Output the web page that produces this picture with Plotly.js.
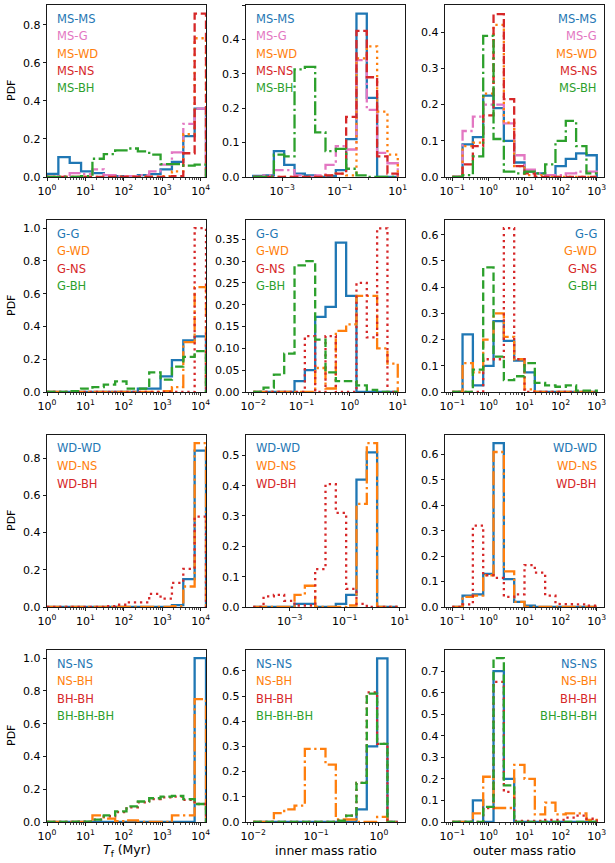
<!DOCTYPE html>
<html>
<head>
<meta charset="utf-8">
<script src="https://cdn.plot.ly/plotly-3.0.1.min.js"></script>
<style>
html, body { margin: 0; padding: 0; background: #fff; }
#chart { width: 615px; height: 863px; }
</style>
</head>
<body>
<div id="chart"></div>
<script>
// pair labels per row
var msPairs = ['MS-MS', 'MS-G', 'MS-WD', 'MS-NS', 'MS-BH'];
var gPairs = ['G-G', 'G-WD', 'G-NS', 'G-BH'];
var wdPairs = ['WD-WD', 'WD-NS', 'WD-BH'];
var remPairs = ['NS-NS', 'NS-BH', 'BH-BH', 'BH-BH-BH'];

// histogram bins: 14 log-uniform bins between these log10 limits
var nBins = 14;
var tfLogLim = [0, 4.14];
var innerLogLim = [[-4, 1], [-2, 1], [-4.33, 0.93], [-2, 0.301]];
var outerLogLim = [-1, 3];

// PDF values, one list per pair (same order as the labels)
var msTf = [
  [0.016, 0.105, 0.074, 0.03, 0.02, 0.01, 0.005, 0.005, 0.01, 0.015, 0.04, 0.08, 0.215, 0.36],
  [0, 0.005, 0.02, 0.015, 0.04, 0.01, 0.005, 0.005, 0.01, 0.03, 0.065, 0.13, 0.28, 0.36],
  [0, 0, 0, 0, 0, 0, 0, 0, 0, 0.002, 0.005, 0.03, 0.225, 0.73],
  [0, 0, 0, 0, 0, 0, 0, 0, 0, 0, 0, 0.005, 0.125, 0.86],
  [0, 0, 0, 0.005, 0.096, 0.12, 0.14, 0.15, 0.135, 0.118, 0.068, 0.068, 0.06, 0.065]
];
var msInner = [
  [0.003, 0.005, 0.075, 0.035, 0.01, 0.005, 0, 0.003, 0.02, 0.11, 0.475, 0.23, 0, 0],
  [0, 0.005, 0.02, 0.02, 0.005, 0, 0.005, 0.035, 0.09, 0.08, 0.34, 0.195, 0.07, 0.04],
  [0, 0, 0, 0, 0, 0, 0, 0.005, 0.01, 0.005, 0.345, 0.38, 0.19, 0.065],
  [0, 0, 0, 0, 0, 0, 0, 0.005, 0.01, 0.175, 0.425, 0.29, 0.06, 0.01],
  [0, 0, 0.065, 0.06, 0.313, 0.32, 0.13, 0.075, 0.082, 0.024, 0.005, 0, 0, 0]
];
var msOuter = [
  [0, 0.09, 0.11, 0.225, 0.19, 0.10, 0.04, 0.015, 0.01, 0.005, 0.03, 0.05, 0.065, 0.06],
  [0, 0.127, 0.167, 0.2, 0.2, 0.148, 0.06, 0.02, 0.01, 0.005, 0.005, 0.01, 0.015, 0.015],
  [0, 0.085, 0.095, 0.23, 0.42, 0.15, 0.03, 0.005, 0.005, 0, 0, 0, 0, 0],
  [0, 0.035, 0.085, 0.17, 0.45, 0.215, 0.03, 0.01, 0, 0, 0, 0, 0, 0],
  [0, 0.005, 0.057, 0.39, 0.105, 0.015, 0.01, 0.015, 0.01, 0.035, 0.1, 0.155, 0.085, 0.01]
];

var gTf = [
  [0, 0, 0, 0, 0, 0, 0, 0, 0.02, 0.02, 0.095, 0.195, 0.315, 0.34],
  [0, 0, 0, 0, 0, 0, 0, 0, 0, 0, 0.005, 0.03, 0.305, 0.64],
  [0, 0, 0, 0, 0, 0, 0, 0, 0, 0, 0, 0, 0, 1.0],
  [0, 0, 0.005, 0.02, 0.03, 0.045, 0.065, 0.02, 0.02, 0.12, 0.075, 0.155, 0.215, 0.25]
];
var gInner = [
  [0, 0, 0, 0, 0.025, 0.05, 0.172, 0.195, 0.342, 0.22, 0, 0, 0, 0],
  [0, 0, 0, 0, 0, 0, 0.055, 0.008, 0.14, 0.155, 0.22, 0.22, 0.10, 0.065],
  [0, 0, 0, 0, 0, 0.128, 0, 0.128, 0, 0, 0.25, 0.125, 0.375, 0],
  [0, 0.01, 0.04, 0.088, 0.29, 0.30, 0.12, 0.045, 0.025, 0.025, 0.015, 0.005, 0, 0]
];
var gOuter = [
  [0, 0.22, 0.025, 0.10, 0.27, 0.195, 0.12, 0.075, 0, 0, 0, 0, 0, 0],
  [0, 0.11, 0.075, 0.20, 0.30, 0.21, 0.125, 0.01, 0, 0, 0, 0, 0, 0],
  [0, 0, 0, 0.125, 0.125, 0.625, 0.125, 0, 0, 0, 0, 0, 0, 0],
  [0, 0, 0.085, 0.475, 0.135, 0.045, 0.06, 0.11, 0.035, 0.025, 0.02, 0.025, 0.005, 0.005]
];

var wdTf = [
  [0, 0, 0, 0, 0, 0, 0, 0, 0, 0, 0, 0.01, 0.15, 0.84],
  [0, 0, 0, 0, 0, 0, 0, 0, 0, 0, 0, 0.005, 0.11, 0.88],
  [0, 0, 0, 0, 0, 0.005, 0.012, 0.025, 0.025, 0.07, 0.045, 0.13, 0.205, 0.485]
];
var wdInner = [
  [0, 0, 0, 0, 0.01, 0.01, 0, 0, 0.01, 0.04, 0.42, 0.51, 0, 0],
  [0, 0, 0, 0, 0.04, 0.07, 0, 0, 0, 0.005, 0.34, 0.54, 0, 0],
  [0, 0.035, 0.04, 0.02, 0.005, 0.005, 0.125, 0.405, 0.31, 0.06, 0.01, 0, 0, 0]
];
var wdOuter = [
  [0, 0.045, 0.05, 0.13, 0.645, 0.11, 0.02, 0.005, 0, 0, 0, 0, 0, 0],
  [0, 0.04, 0.045, 0.125, 0.61, 0.14, 0.02, 0, 0, 0, 0, 0, 0, 0],
  [0, 0.01, 0.32, 0.125, 0.115, 0.04, 0.05, 0.165, 0.135, 0.045, 0.012, 0.01, 0.01, 0.005]
];

var remTf = [
  [0, 0, 0, 0, 0, 0, 0, 0, 0, 0, 0, 0, 0, 1.0],
  [0, 0, 0, 0, 0.04, 0.02, 0.005, 0.01, 0, 0, 0, 0.04, 0.04, 0.75],
  [0, 0, 0, 0.002, 0.015, 0.035, 0.06, 0.09, 0.12, 0.14, 0.15, 0.155, 0.135, 0.11],
  [0, 0, 0, 0.002, 0.015, 0.04, 0.065, 0.095, 0.125, 0.145, 0.155, 0.16, 0.14, 0.11]
];
var remInner = [
  [0, 0, 0, 0, 0, 0, 0, 0, 0, 0, 0.05, 0.30, 0.65, 0],
  [0, 0, 0.035, 0.05, 0.065, 0.29, 0.29, 0.228, 0.01, 0.01, 0, 0, 0.02, 0],
  [0, 0, 0, 0, 0, 0, 0, 0, 0.005, 0.025, 0.155, 0.515, 0.31, 0],
  [0, 0, 0, 0, 0, 0, 0, 0, 0.005, 0.025, 0.155, 0.51, 0.31, 0]
];
var remOuter = [
  [0, 0, 0.1, 0, 0.70, 0.20, 0, 0, 0, 0, 0, 0, 0, 0],
  [0, 0, 0.04, 0.21, 0.065, 0.065, 0.265, 0.2, 0.035, 0.09, 0.035, 0.04, 0.04, 0.01],
  [0, 0, 0, 0.065, 0.65, 0.14, 0.005, 0.005, 0.005, 0.01, 0.01, 0.02, 0.03, 0.015],
  [0, 0, 0, 0.07, 0.76, 0.17, 0, 0, 0, 0, 0, 0, 0, 0]
];

// styling
var blue = '#1f77b4', orange = '#ff7f0e', green = '#2ca02c', red = '#d62728', pink = '#e377c2';
var solid = 'solid', dashdot = '14px,3.5px,2.3px,3.5px', dot = '2.3px,3.8px', dash = '8.5px,3.7px';
var rowLabels = [msPairs, gPairs, wdPairs, remPairs];
var rowColors = [[blue, pink, orange, red, green], [blue, orange, red, green], [blue, orange, red], [blue, orange, red, green]];
var rowDash = [[solid, dashdot, dot, dash, dashdot], [solid, dashdot, dot, dash], [solid, dashdot, dot], [solid, dashdot, dot, dash]];
var rowData = [[msTf, msInner, msOuter], [gTf, gInner, gOuter], [wdTf, wdInner, wdOuter], [remTf, remInner, remOuter]];

var yTop = [[0.905, 0.5, 0.475], [1.05, 0.394, 0.656], [0.924, 0.567, 0.677], [1.05, 0.683, 0.798]];
var yStep = [[0.2, 0.1, 0.1], [0.2, 0.05, 0.1], [0.2, 0.1, 0.1], [0.2, 0.1, 0.1]];

var W = 615, H = 863;
var colPx = [[47, 206], [246, 405], [445, 604]];
var rowPx = [[5, 177], [220, 392], [435, 607], [650, 822]];
var font = 'DejaVu Sans, Liberation Sans, sans-serif';

function sup(p) {
  return '10<sup>' + (p < 0 ? '\u2212' + (-p) : p) + '</sup>';
}

function edgesOf(lim) {
  var e = [];
  for (var k = 0; k <= nBins; k++) e.push(Math.pow(10, lim[0] + k * (lim[1] - lim[0]) / nBins));
  return e;
}

function stepXY(edges, vals) {
  var xs = [edges[0]], ys = [0];
  for (var i = 0; i < vals.length; i++) {
    xs.push(edges[i], edges[i + 1]);
    ys.push(vals[i], vals[i]);
  }
  xs.push(edges[vals.length]);
  ys.push(0);
  return {x: xs, y: ys};
}

var traces = [];
var annotations = [];
var layout = {
  width: W, height: H,
  margin: {l: 0, r: 0, t: 0, b: 0},
  paper_bgcolor: '#fff', plot_bgcolor: '#fff',
  showlegend: false,
  font: {family: font, color: '#000'}
};

for (var r = 0; r < 4; r++) {
  for (var c = 0; c < 3; c++) {
    var p = r * 3 + c + 1;
    var sfx = p === 1 ? '' : String(p);
    var lim = c === 0 ? tfLogLim : (c === 1 ? innerLogLim[r] : outerLogLim);
    var edges = edgesOf(lim);
    var span = lim[1] - lim[0];
    var xr = c === 0 ? [lim[0], lim[1]] : [lim[0] - 0.05 * span, lim[1] + 0.05 * span];

    // major ticks: every decade, or every second one on the wide inner panels
    var stride = (c === 1 && (r === 0 || r === 2)) ? 2 : 1;
    var lo = Math.ceil(xr[0]), hi = Math.floor(xr[1]);
    var tv = [], tt = [], mv = [];
    for (var d = Math.floor(xr[0]); d <= hi; d++) {
      var isMajor = d >= lo && (stride === 1 || Math.abs(d % 2) === 1);
      if (isMajor) { tv.push(Math.pow(10, d)); tt.push(sup(d)); }
      else if (d >= lo) mv.push(Math.pow(10, d));
      if (stride === 1) for (var m = 2; m < 10; m++) mv.push(m * Math.pow(10, d));
    }

    layout['xaxis' + sfx] = {
      domain: [colPx[c][0] / W, colPx[c][1] / W],
      anchor: 'y' + sfx,
      type: 'log', range: xr,
      tickmode: 'array', tickvals: tv, ticktext: tt,
      ticks: 'outside', ticklen: 3.5, tickwidth: 0.9, tickcolor: '#000',
      minor: {tickmode: 'array', tickvals: mv, ticks: 'outside', ticklen: 2, tickwidth: 0.7, tickcolor: '#000'},
      showline: true, mirror: true, linecolor: '#000', linewidth: 0.9,
      showgrid: false, zeroline: false,
      tickfont: {family: font, size: 11, color: '#000'}
    };
    layout['yaxis' + sfx] = {
      domain: [1 - rowPx[r][1] / H, 1 - rowPx[r][0] / H],
      anchor: 'x' + sfx,
      range: [0, yTop[r][c]],
      tickmode: 'linear', tick0: 0, dtick: yStep[r][c],
      tickformat: yStep[r][c] < 0.1 ? '.2f' : '.1f',
      ticks: 'outside', ticklen: 3.5, tickwidth: 0.9, tickcolor: '#000',
      showline: true, mirror: true, linecolor: '#000', linewidth: 0.9,
      showgrid: false, zeroline: false,
      tickfont: {family: font, size: 11, color: '#000'}
    };

    var series = rowData[r][c];
    for (var s = 0; s < series.length; s++) {
      var xy = stepXY(edges, series[s]);
      traces.push({
        type: 'scatter', mode: 'lines',
        x: xy.x, y: xy.y,
        xaxis: 'x' + sfx, yaxis: 'y' + sfx,
        name: rowLabels[r][s],
        line: {color: rowColors[r][s], width: 2.3, dash: rowDash[r][s]},
        hoverinfo: 'skip'
      });
      // text-only legend
      annotations.push({
        xref: 'paper', yref: 'paper',
        x: c === 2 ? (colPx[c][1] - 5) / W : (colPx[c][0] + 8) / W,
        xanchor: c === 2 ? 'right' : 'left',
        y: 1 - (rowPx[r][0] + 13.5 + 17.5 * s) / H,
        yanchor: 'middle',
        text: rowLabels[r][s], showarrow: false,
        font: {family: font, size: 11.5, color: rowColors[r][s]}
      });
    }
  }
  annotations.push({
    xref: 'paper', yref: 'paper',
    x: 11 / W, y: 1 - (rowPx[r][0] + rowPx[r][1]) / 2 / H,
    xanchor: 'center', yanchor: 'middle', textangle: -90,
    text: 'PDF', showarrow: false,
    font: {family: font, size: 11, color: '#000'}
  });
}

var xTitles = ['<i>T</i><sub>f</sub> (Myr)', 'inner mass ratio', 'outer mass ratio'];
for (var c2 = 0; c2 < 3; c2++) {
  annotations.push({
    xref: 'paper', yref: 'paper',
    x: (colPx[c2][0] + colPx[c2][1]) / 2 / W, y: 1 - 850 / H,
    xanchor: 'center', yanchor: 'middle',
    text: xTitles[c2], showarrow: false,
    font: {family: font, size: 12.5, color: '#000'}
  });
}
layout.annotations = annotations;

Plotly.newPlot('chart', traces, layout, {staticPlot: true});
</script>
</body>
</html>
